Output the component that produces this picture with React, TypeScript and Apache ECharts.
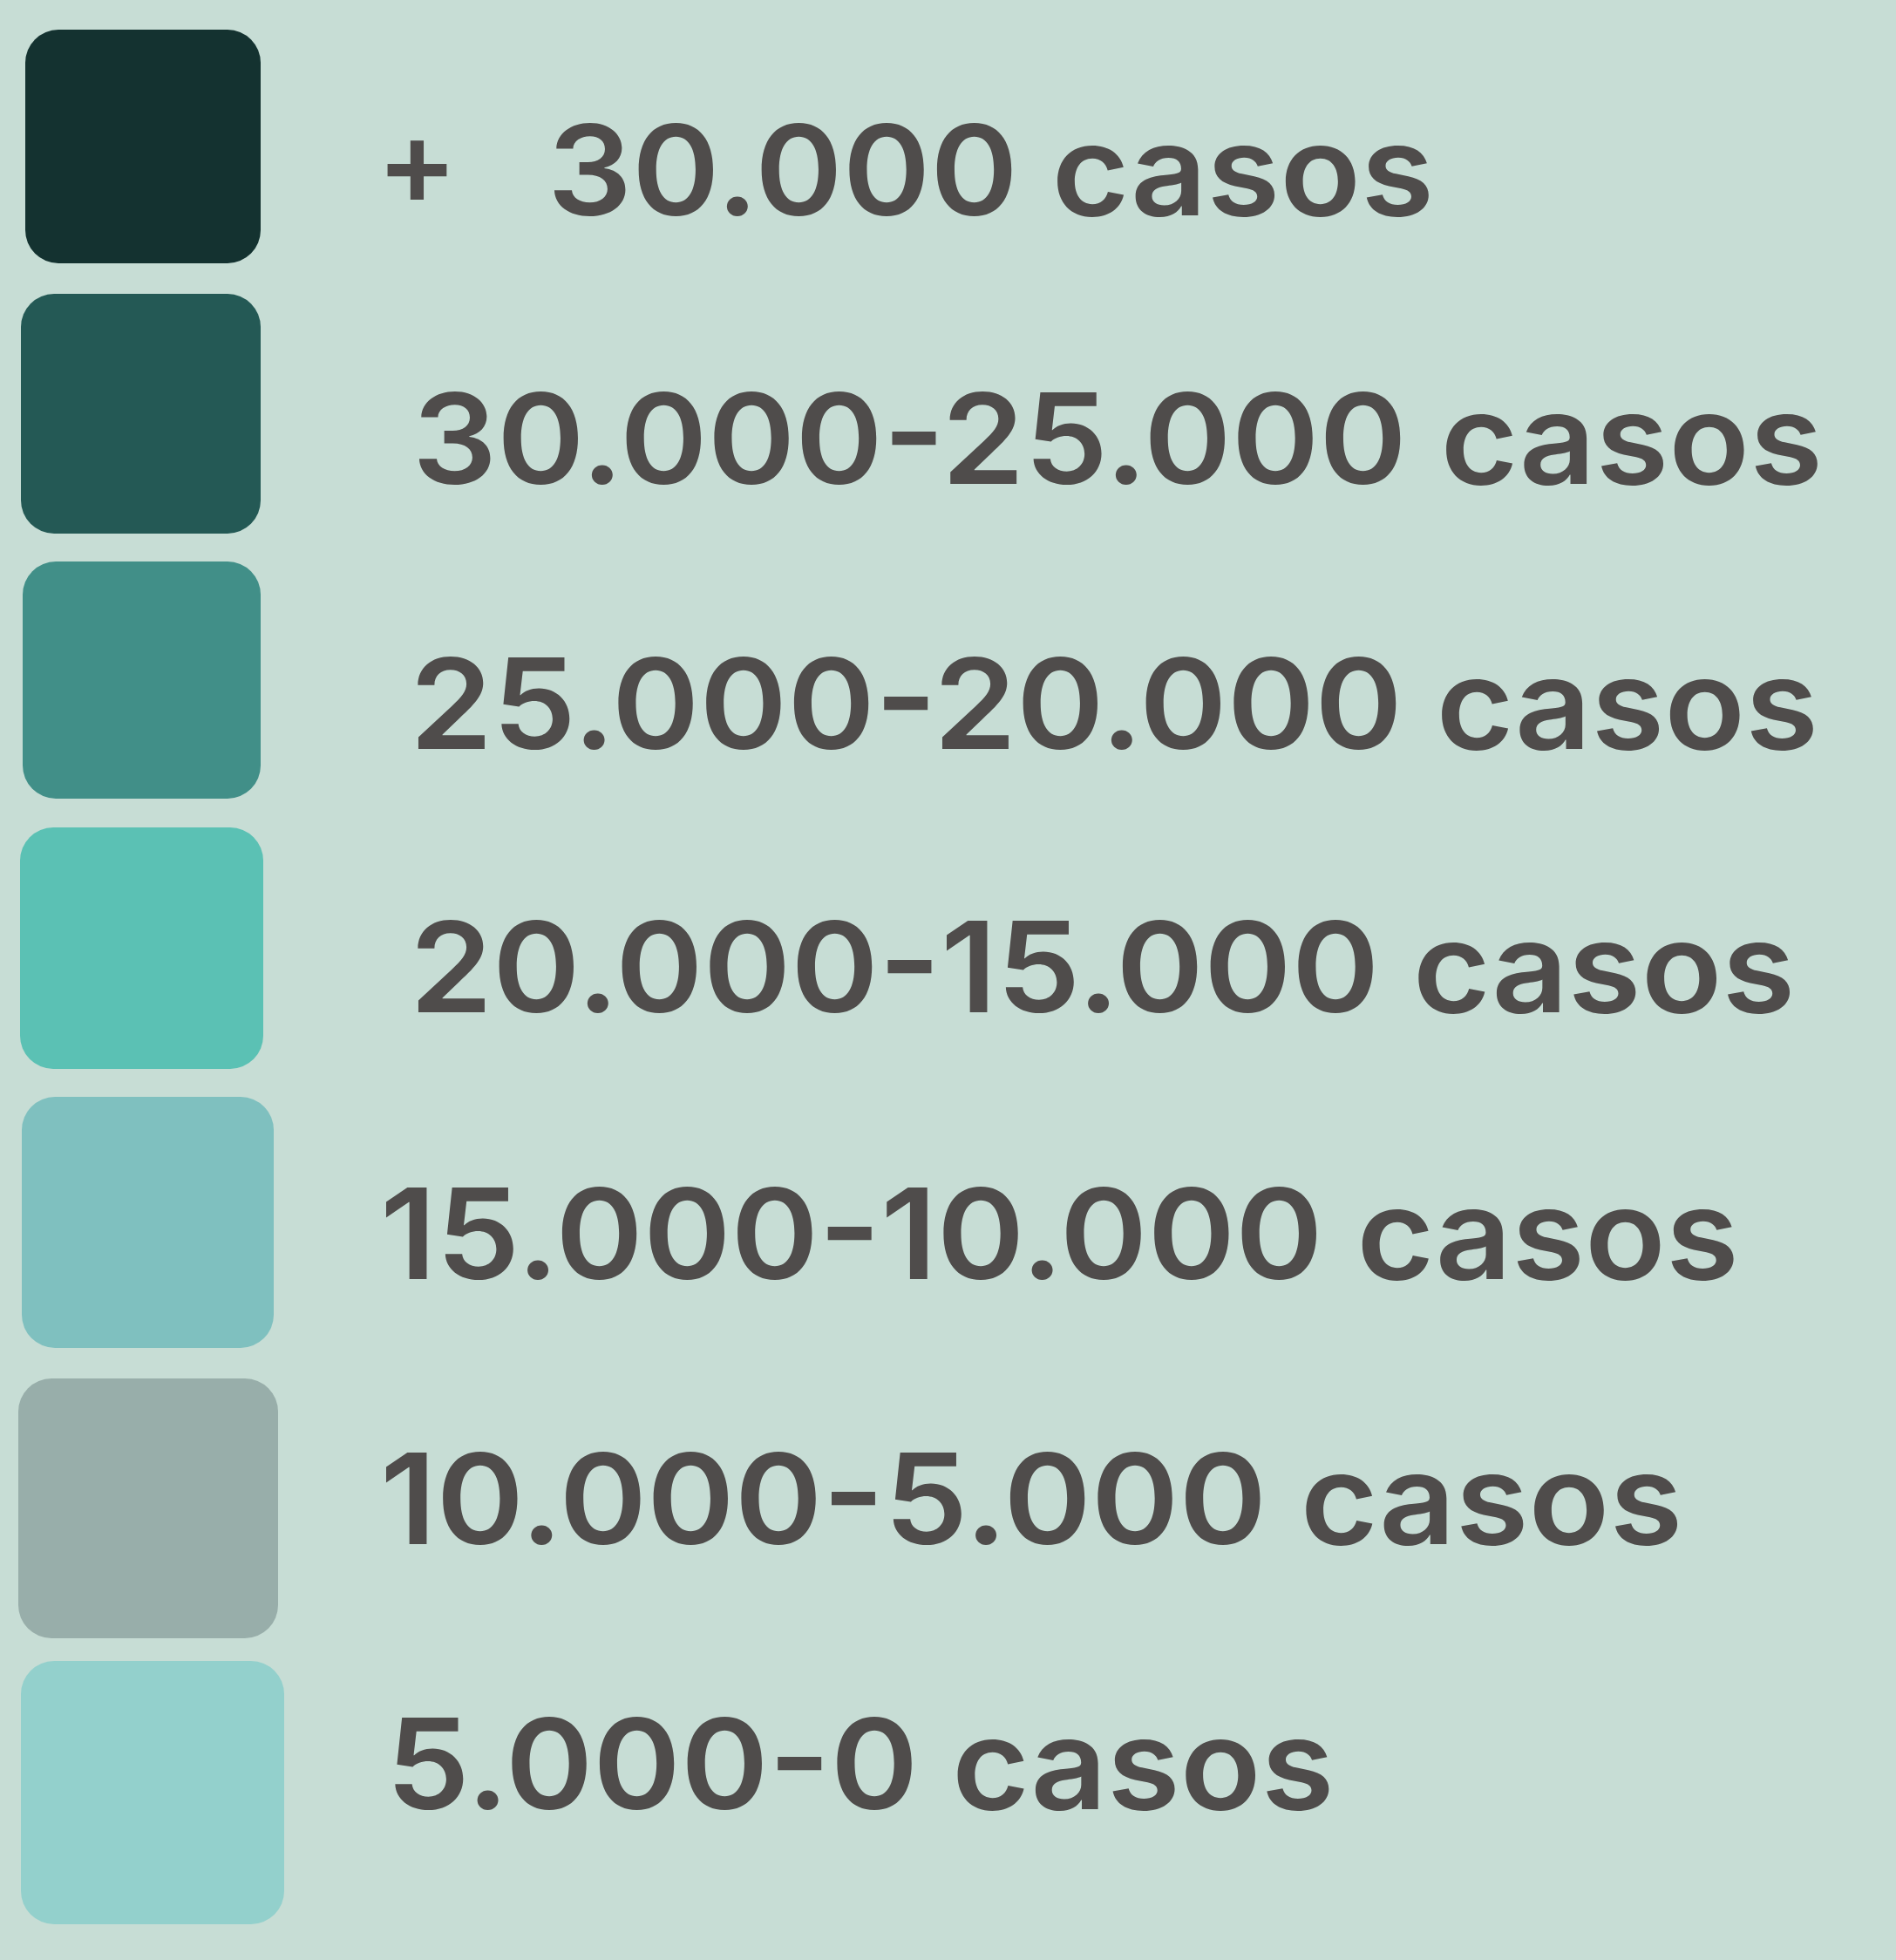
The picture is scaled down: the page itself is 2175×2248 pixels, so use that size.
import React, { useEffect, useRef } from "react";
import * as echarts from "echarts";

// Legend categories (ranges of cases) and their swatch colours
const prefixes = ["+", "", "", "", "", "", ""];
const labels = [
  "30.000 casos",
  "30.000-25.000 casos",
  "25.000-20.000 casos",
  "20.000-15.000 casos",
  "15.000-10.000 casos",
  "10.000-5.000 casos",
  "5.000-0 casos",
];
const colors = ["#143230", "#245955", "#418f88", "#5bc1b4", "#7fc0bf", "#98aeaa", "#93d0cc"];

// Layout (pixels): swatch rectangles [x, y, w, h] and text anchors [x, baseline]
const boxes = [
  [29, 34, 270, 268],
  [24, 337, 275, 275],
  [26, 644, 273, 272],
  [23, 949, 279, 277],
  [25, 1258, 289, 288],
  [21, 1581, 298, 298],
  [24, 1905, 302, 302],
];
const textPos = [
  [628, 247],
  [473, 555],
  [470, 859],
  [470, 1161],
  [436, 1467],
  [436, 1771],
  [443, 2075],
];

const W = 2175;
const H = 2248;
const FONT_SIZE = 144;
const BASELINE_OFFSET = 124; // distance from top of text box to baseline at FONT_SIZE

export default function App() {
  const ref = useRef<HTMLDivElement>(null);
  useEffect(() => {
    if (!ref.current) return;
    const chart = echarts.init(ref.current, null, { renderer: "svg" });
    const elements: any[] = [
      { type: "rect", shape: { x: 0, y: 0, width: W, height: H }, style: { fill: "#c7ddd5" }, z: 0 },
    ];
    labels.forEach((lab, i) => {
      const [bx, by, bw, bh] = boxes[i];
      elements.push({
        type: "rect",
        shape: { x: bx, y: by, width: bw, height: bh, r: 38 },
        style: { fill: colors[i] },
        z: 1,
      });
      const [tx, ty] = textPos[i];
      const font = { fontFamily: "Inter", fontWeight: 600, fontSize: FONT_SIZE, fill: "#4f4c4b" };
      elements.push({
        type: "text",
        x: tx,
        y: ty - BASELINE_OFFSET,
        scaleX: 1.06,
        style: { text: lab, ...font, verticalAlign: "top", align: "left" },
        z: 2,
      });
      if (prefixes[i]) {
        elements.push({
          type: "text",
          x: 432,
          y: ty - BASELINE_OFFSET - 8,
          style: { text: prefixes[i], ...font, fontSize: 138, verticalAlign: "top", align: "left" },
          z: 2,
        });
      }
    });
    chart.setOption({
      animation: false,
      backgroundColor: "#c7ddd5",
      graphic: { elements },
    });
    return () => chart.dispose();
  }, []);
  return <div ref={ref} style={{ position: "absolute", left: 0, top: 0, width: W, height: H }} />;
}
